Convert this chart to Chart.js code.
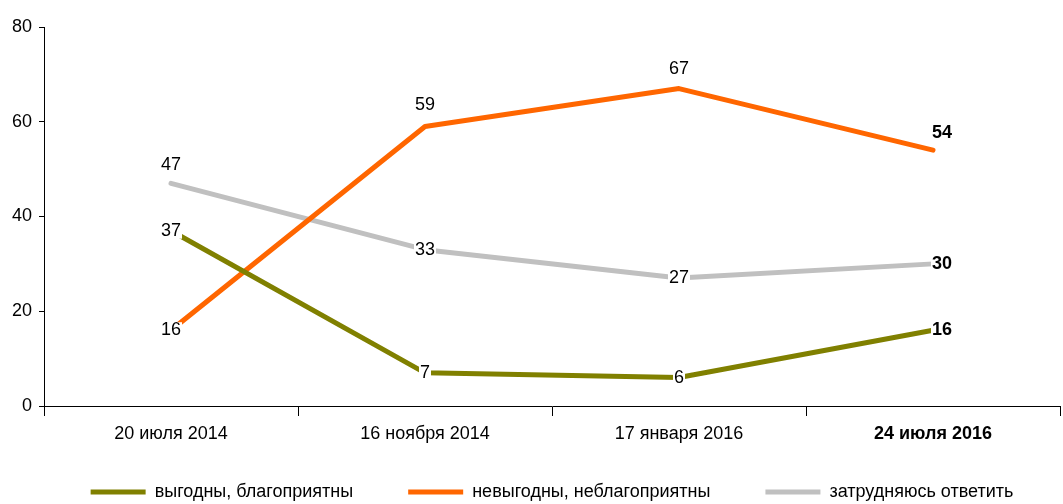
<!DOCTYPE html>
<html><head><meta charset="utf-8">
<script src="https://cdn.jsdelivr.net/npm/chart.js@4"></script>
<style>html,body{margin:0;padding:0;background:#fff}</style>
</head><body>
<canvas id="c" width="1063" height="504" style="display:block;width:1063px;height:504px"></canvas>
<script>
const categories = ['20 июля 2014', '16 ноября 2014', '17 января 2016', '24 июля 2016'];
const favorable = [37, 7, 6, 16];
const unfavorable = [16, 59, 67, 54];
const hardToSay = [47, 33, 27, 30];
const yTicks = [0, 20, 40, 60, 80];
const seriesNames = ['выгодны, благоприятны', 'невыгодны, неблагоприятны', 'затрудняюсь ответить'];

const FONT = '"Liberation Sans Narrow", "Liberation Sans", sans-serif';
const FS = 18;
const LAST = categories.length - 1;

const labelPlugin = {
  id: 'valueLabels',
  afterDatasetsDraw(chart) {
    const ctx = chart.ctx;
    chart.data.datasets.forEach((ds, i) => {
      const meta = chart.getDatasetMeta(i);
      meta.data.forEach((pt, j) => {
        const bold = j === LAST;
        ctx.save();
        ctx.font = (bold ? 'bold ' : '') + FS + 'px ' + FONT;
        const txt = String(ds.data[j]);
        let x = pt.x + (j === LAST ? 9 : 0);
        let y = pt.y - (ds.labelAbove[j] || 0);
        const w = ctx.measureText(txt).width;
        if (!ds.labelAbove[j]) {
          ctx.fillStyle = '#fff';
          ctx.fillRect(x - w / 2 - 1, y - 8, w + 2, 16);
        }
        ctx.fillStyle = '#000';
        ctx.textAlign = 'center';
        ctx.textBaseline = 'middle';
        ctx.fillText(txt, x, y);
        ctx.restore();
      });
    });
  }
};

const legendShift = {
  id: 'legendShift',
  afterLayout(chart) {
    const lg = chart.legend;
    if (lg) { lg.left += 22; lg.right += 22; lg.top -= 18; lg.bottom -= 18; }
  }
};

const lineStyle = { borderWidth: 5, borderCapStyle: 'round', borderJoinStyle: 'round', fill: false, tension: 0 };

new Chart(document.getElementById('c'), {
  type: 'line',
  data: {
    labels: categories,
    datasets: [
      Object.assign({ label: seriesNames[0], data: favorable, borderColor: '#808000', backgroundColor: '#808000', labelAbove: [0, 0, 0, 0] }, lineStyle),
      Object.assign({ label: seriesNames[1], data: unfavorable, borderColor: '#FF6600', backgroundColor: '#FF6600', labelAbove: [0, 21, 20, 17] }, lineStyle),
      Object.assign({ label: seriesNames[2], data: hardToSay, borderColor: '#C0C0C0', backgroundColor: '#C0C0C0', labelAbove: [18, 0, 0, 0] }, lineStyle)
    ]
  },
  options: {
    responsive: false,
    animation: false,
    devicePixelRatio: 1,
    layout: { padding: { left: 0, right: 3, top: 27, bottom: -25 } },
    elements: {
      point: { radius: 0, hoverRadius: 0 }
    },
    scales: {
      x: {
        offset: true,
        grid: { display: true, drawOnChartArea: false, offset: true, tickLength: 10, color: '#000', lineWidth: 1 },
        border: { display: true, color: '#000', width: 1 },
        ticks: {
          color: '#000', padding: 7,
          font: (c) => ({ family: FONT, size: FS, weight: c.index === LAST ? 'bold' : 'normal' })
        },
        afterFit: (s) => { s.height = 40; }
      },
      y: {
        min: 0, max: 80,
        afterBuildTicks: (s) => { s.ticks = yTicks.map(v => ({ value: v })); },
        grid: { display: true, drawOnChartArea: false, tickLength: 5, color: '#000', lineWidth: 1 },
        border: { display: true, color: '#000', width: 1 },
        ticks: { color: '#000', padding: 7, font: { family: FONT, size: FS } },
        afterFit: (s) => { s.width = 44; }
      }
    },
    plugins: {
      legend: {
        position: 'bottom',
        labels: {
          usePointStyle: true, pointStyle: 'line', pointStyleWidth: 55,
          padding: 55, color: '#000', font: { family: FONT, size: FS }
        }
      },
      tooltip: { enabled: false }
    }
  },
  plugins: [labelPlugin, legendShift]
});
</script>
</body></html>
